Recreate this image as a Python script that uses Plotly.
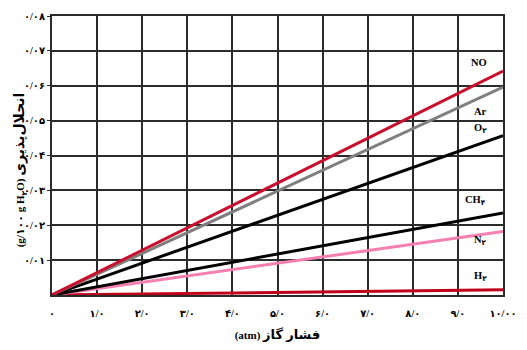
import plotly.graph_objects as go

# Pressure range (atm) and solubility at 10 atm (g per 100 g water)
pressure = [0, 10]
gases = ["NO", "Ar", "O<sub>۲</sub>", "CH<sub>۴</sub>", "N<sub>۲</sub>", "H<sub>۲</sub>"]
solubility_at_10 = [0.0642, 0.0596, 0.0457, 0.0235, 0.0182, 0.0015]
line_colors = ["#c8102e", "#7f7f7f", "#000000", "#000000", "#f47fb0", "#c00018"]

# Where each gas name sits on the chart
label_x = [9.46, 9.5, 9.5, 9.38, 9.5, 9.5]
label_y = [0.0668, 0.0527, 0.0476, 0.0270, 0.0155, 0.0054]

# Persian tick labels
x_ticks = [0, 1, 2, 3, 4, 5, 6, 7, 8, 9, 10]
x_tick_text = ["۰", "۱/۰", "۲/۰", "۳/۰", "۴/۰", "۵/۰", "۶/۰", "۷/۰", "۸/۰", "۹/۰", "۱۰/۰۰"]
y_ticks = [0.01, 0.02, 0.03, 0.04, 0.05, 0.06, 0.07, 0.08]
y_tick_text = ["۰/۰۱", "۰/۰۲", "۰/۰۳", "۰/۰۴", "۰/۰۵", "۰/۰۶", "۰/۰۷", "۰/۰۸"]

FONT = "Liberation Serif, DejaVu Sans, serif"

fig = go.Figure()
# draw bottom series first so the upper lines stay on top
for name, v, c in reversed(list(zip(gases, solubility_at_10, line_colors))):
    fig.add_trace(go.Scatter(
        x=pressure, y=[0, v], mode="lines",
        line=dict(color=c, width=3), name=name, showlegend=False,
        hoverinfo="skip",
    ))

for name, lx, ly in zip(gases, label_x, label_y):
    fig.add_annotation(
        x=lx, y=ly, text="<b>%s</b>" % name, showarrow=False,
        font=dict(family=FONT, size=10.5, color="black"),
    )

grid = "#2b2b2b"
x_title = "<b>(atm) <span style='font-size:13px'>فشار گاز</span></b>"
y_title = "<b>(g/۱۰۰ g H<sub>۲</sub>O) <span style='font-size:14px'>انحلال‌پذیری</span></b>"

# vertical axis title, placed a little below the plot's middle
fig.add_annotation(
    xref="paper", yref="paper", x=-0.069, y=0.45, text=y_title,
    textangle=-90, showarrow=False, xanchor="center", yanchor="middle",
    font=dict(family=FONT, size=11, color="black"),
)

fig.update_layout(
    width=527, height=350,
    margin=dict(l=52, r=10, t=15, b=51),
    paper_bgcolor="white", plot_bgcolor="white",
    font=dict(family=FONT, color="black"),
    xaxis=dict(
        range=[0, 10], tickmode="array", tickvals=x_ticks, ticktext=x_tick_text,
        showgrid=True, gridcolor=grid, gridwidth=2,
        showline=True, linecolor=grid, linewidth=2, mirror=True,
        ticks="outside", ticklen=8, tickcolor="rgba(0,0,0,0)",
        ticklabeloverflow="allow",
        tickfont=dict(family=FONT, size=10, color="black", weight="bold"),
        zeroline=False,
        title=dict(text=x_title, standoff=13,
                   font=dict(family=FONT, size=11, color="black")),
    ),
    yaxis=dict(
        range=[0, 0.08], tickmode="array", tickvals=y_ticks, ticktext=y_tick_text,
        showgrid=True, gridcolor=grid, gridwidth=2,
        showline=True, linecolor=grid, linewidth=2, mirror=True,
        ticks="outside", ticklen=3, tickcolor=grid,
        tickfont=dict(family=FONT, size=10, color="black", weight="bold"),
        zeroline=False,
    ),
)

fig.write_html("out.html")
